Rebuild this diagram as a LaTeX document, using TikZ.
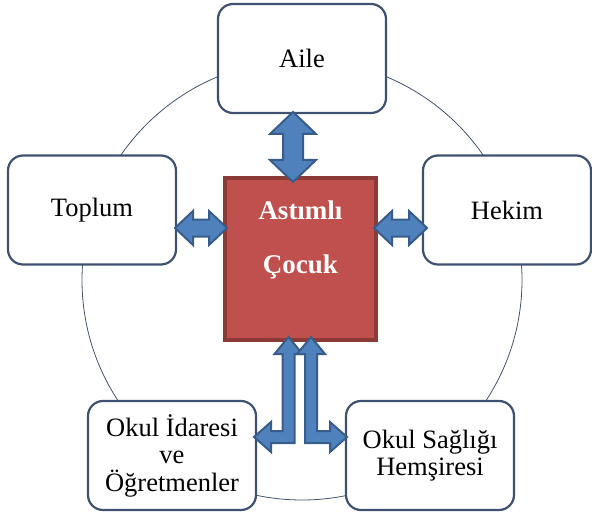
\documentclass[tikz,border=0pt]{standalone}
\usepackage{fontspec}
\setmainfont{Liberation Serif}
\definecolor{boxline}{HTML}{3F5171}
\definecolor{circline}{HTML}{44546A}
\definecolor{sqfill}{HTML}{C0504D}
\definecolor{sqline}{HTML}{8C3A38}
\definecolor{arrowfill}{HTML}{4F81BD}
\definecolor{arrowline}{HTML}{385D8A}
\begin{document}
\begin{tikzpicture}[x=1pt,y=-1pt,
  box/.style={draw=boxline, line width=2.2pt, rounded corners=15pt, fill=white,
    minimum width=168pt, minimum height=109pt, align=center,
    font=\fontsize{26.5}{27.5}\selectfont, inner sep=0pt},
  sq/.style={draw=sqline, fill=sqfill, line width=4pt, minimum width=151pt, minimum height=162pt, inner sep=0pt},
  sqtxt/.style={text=white, font=\fontsize{27}{27.5}\selectfont\bfseries, inner sep=0pt},
  blk/.style={fill=arrowfill, draw=arrowline, line width=2pt, line join=miter}]
\useasboundingbox (0,0) rectangle (592,516);
\draw[circline, line width=0.8pt] (302,280) circle (220pt);
\node[box] (aile) at (302,58.5) {Aile};
\node[box] (toplum) at (92,210) {Toplum};
\node[box] (hekim) at (507,210) {Hekim};
\node[box] (idare) at (172,455.5) {Okul İdaresi\\ve\\Öğretmenler};
\node[box] (hemsire) at (430,455.5) {Okul Sağlığı\\Hemşiresi};
\node[sq] (cocuk) at (300.5,259) {};
\node[sqtxt] (t1) at (300.5,210) {Astımlı};
\node[sqtxt] (t2) at (300.5,267) {Çocuk};
% top double arrow
\draw[blk] (293,112) -- (316,134) -- (303,134) -- (303,160) -- (316,160) -- (293,182)
  -- (270,160) -- (283,160) -- (283,134) -- (270,134) -- cycle;
% left double arrow
\draw[blk] (175,228) -- (193,211) -- (193,219.5) -- (209,219.5) -- (209,211) -- (227,228)
  -- (209,245) -- (209,236.5) -- (193,236.5) -- (193,245) -- cycle;
% right double arrow
\draw[blk] (374,228) -- (392,211) -- (392,219.5) -- (409,219.5) -- (409,211) -- (427,228)
  -- (409,245) -- (409,236.5) -- (392,236.5) -- (392,245) -- cycle;
% bent arrow to left
\draw[blk] (288.5,337) -- (302.5,354) -- (294.5,354) -- (294.5,443) -- (271,443) -- (271,452)
  -- (254,437) -- (271,422) -- (271,431) -- (282.5,431) -- (282.5,354) -- (274.5,354) -- cycle;
% bent arrow to right
\draw[blk] (311,337) -- (325,354) -- (317,354) -- (317,431) -- (330,431) -- (330,422)
  -- (347,437) -- (330,452) -- (330,443) -- (305,443) -- (305,354) -- (297,354) -- cycle;
\end{tikzpicture}
\end{document}
